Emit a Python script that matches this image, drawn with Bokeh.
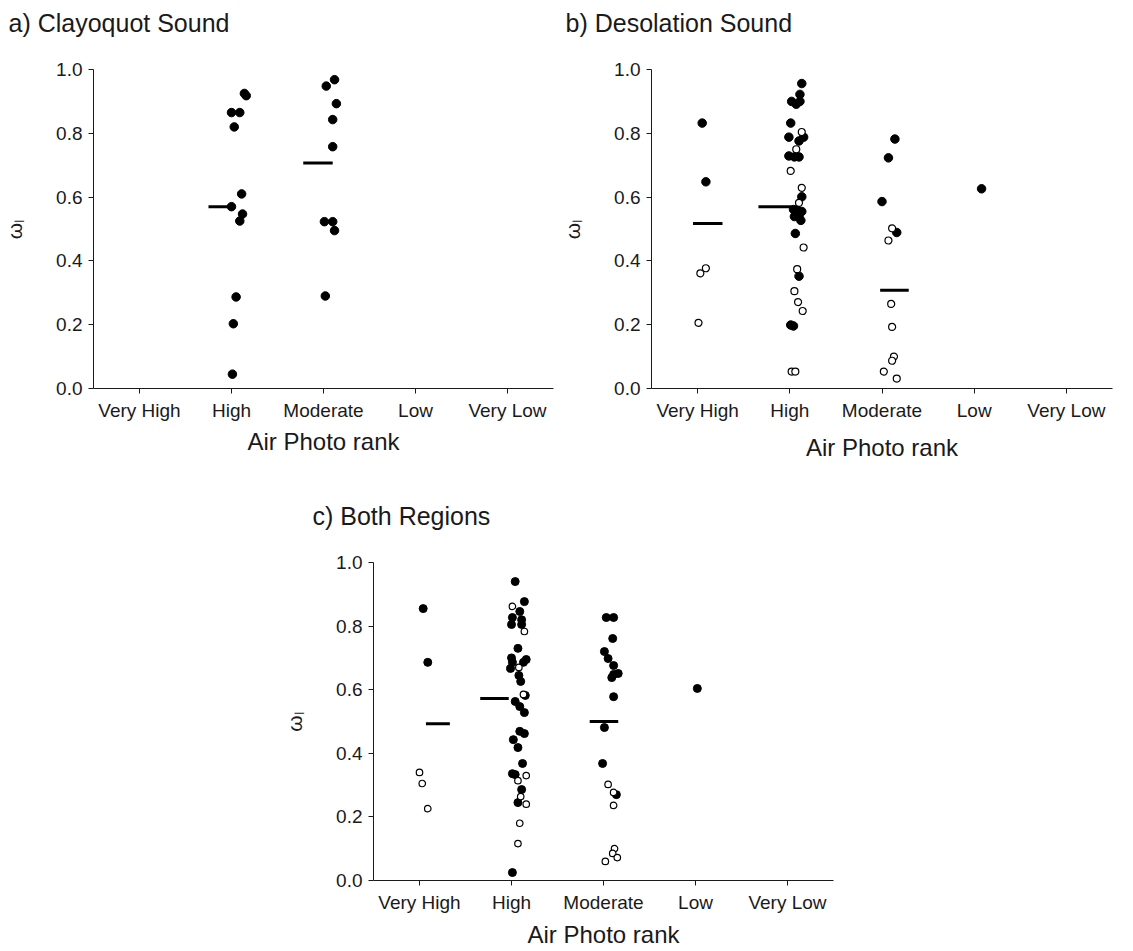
from bokeh.plotting import figure
from bokeh.models import Range1d, FixedTicker, Title, Spacer, ColumnDataSource
from bokeh.layouts import row, column
from bokeh.embed import file_html
from bokeh.resources import INLINE

# Air photo rank categories (x axis), positioned at 1..5
ranks = ["Very High", "High", "Moderate", "Low", "Very Low"]
y_ticks = [0.0, 0.2, 0.4, 0.6, 0.8, 1.0]

# ---- a) Clayoquot Sound -------------------------------------------------
a_rank = [2, 2, 2, 2, 2, 2, 2, 2, 2, 2, 2, 2,
          3, 3, 3, 3, 3, 3, 3, 3, 3]
a_omega = [0.925, 0.918, 0.865, 0.865, 0.82, 0.61, 0.57, 0.547, 0.525, 0.287, 0.203, 0.045,
           0.968, 0.948, 0.893, 0.843, 0.758, 0.523, 0.523, 0.495, 0.29]
a_jitter = [0.14, 0.16, 0.0, 0.09, 0.03, 0.11, 0.0, 0.12, 0.09, 0.05, 0.02, 0.01,
            0.12, 0.03, 0.14, 0.10, 0.10, 0.01, 0.10, 0.12, 0.02]
a_hollow = [False] * 21
a_mean_rank = [2, 3]
a_mean = [0.57, 0.707]
a_mean_from = [-0.25, -0.22]
a_mean_to = [0.0, 0.10]

# ---- b) Desolation Sound ------------------------------------------------
b_rank = [1, 1, 1, 1, 1] + [2] * 35 + [3] * 12 + [4]
b_omega = [0.832, 0.648, 0.377, 0.361, 0.206,
           0.956, 0.922, 0.90, 0.90, 0.891, 0.832, 0.804, 0.788, 0.788, 0.776,
           0.75, 0.729, 0.726, 0.726, 0.682, 0.629, 0.601, 0.582, 0.561, 0.555,
           0.539, 0.539, 0.527, 0.486, 0.442, 0.374, 0.352, 0.305, 0.271, 0.243,
           0.199, 0.196, 0.053, 0.053, 0.56,
           0.782, 0.723, 0.586, 0.489, 0.502, 0.464, 0.265, 0.193, 0.10, 0.087, 0.053, 0.031,
           0.626]
b_jitter = [0.05, 0.09, 0.09, 0.03, 0.01,
            0.13, 0.11, 0.02, 0.11, 0.07, 0.01, 0.13, -0.01, 0.15, 0.10,
            0.07, -0.01, 0.05, 0.10, 0.01, 0.13, 0.13, 0.10, 0.04, 0.13,
            0.05, 0.10, 0.12, 0.06, 0.15, 0.08, 0.10, 0.05, 0.09, 0.14,
            0.01, 0.04, 0.02, 0.06, 0.08,
            0.14, 0.07, 0.0, 0.16, 0.11, 0.07, 0.10, 0.11, 0.13, 0.11, 0.02, 0.16,
            0.08]
b_hollow = [False, False, True, True, True,
            False, False, False, False, False, False, True, False, False, False,
            True, False, False, False, True, True, False, True, False, False,
            False, False, False, False, True, True, False, True, True, True,
            False, False, True, True, False,
            False, False, False, False, True, True, True, True, True, True, True, True,
            False]
b_mean_rank = [1, 2, 3]
b_mean = [0.517, 0.570, 0.308]
b_mean_from = [-0.05, -0.34, -0.02]
b_mean_to = [0.27, 0.02, 0.29]

# ---- c) Both Regions ----------------------------------------------------
c_rank = [1] * 5 + [2] * 39 + [3] * 20 + [4]
c_omega = [0.855, 0.686, 0.340, 0.305, 0.226,
           0.940, 0.877, 0.862, 0.846, 0.827, 0.820, 0.805, 0.805, 0.783, 0.730,
           0.700, 0.695, 0.686, 0.686, 0.667, 0.670, 0.645, 0.626, 0.582, 0.585,
           0.563, 0.547, 0.528, 0.469, 0.462, 0.443, 0.418, 0.368, 0.336, 0.333,
           0.330, 0.314, 0.286, 0.264, 0.245, 0.240, 0.180, 0.116, 0.025,
           0.827, 0.827, 0.761, 0.720, 0.698, 0.676, 0.651, 0.648, 0.638, 0.578,
           0.481, 0.368, 0.302, 0.277, 0.270, 0.236, 0.100, 0.085, 0.072, 0.060,
           0.604]
c_jitter = [0.04, 0.09, 0.0, 0.03, 0.09,
            0.04, 0.14, 0.01, 0.09, 0.01, 0.11, 0.0, 0.11, 0.14, 0.07,
            0.0, 0.16, 0.01, 0.13, -0.01, 0.08, 0.08, 0.10, 0.15, 0.13,
            0.04, 0.09, 0.14, 0.09, 0.14, 0.02, 0.07, 0.12, 0.01, 0.04,
            0.16, 0.07, 0.11, 0.10, 0.07, 0.16, 0.09, 0.07, 0.01,
            0.03, 0.11, 0.10, 0.01, 0.05, 0.11, 0.16, 0.11, 0.09, 0.11,
            0.01, -0.01, 0.05, 0.11, 0.14, 0.11, 0.12, 0.10, 0.15, 0.02,
            0.02]
c_hollow = [False, False, True, True, True,
            False, False, True, False, False, False, False, False, True, False,
            False, False, False, False, False, True, False, False, False, True,
            False, False, False, False, False, False, False, False, False, False,
            True, True, False, True, False, True, True, True, False,
            False, False, False, False, False, False, False, False, False, False,
            False, False, True, True, False, True, True, True, True, True,
            False]
c_mean_rank = [1, 2, 3]
c_mean = [0.493, 0.572, 0.500]
c_mean_from = [0.07, -0.34, -0.15]
c_mean_to = [0.33, -0.03, 0.16]

FONT = "Liberation Sans"
INK = "#1a1a1a"


def strip_panel(label, label_dx, rank, omega, jitter, hollow,
                m_rank, m_val, m_from, m_to, width, height,
                left, right, top, bottom, xlab_gap, dot=8.5, ring=7.0):
    p = figure(width=width, height=height,
               x_range=Range1d(0.5, 5.5), y_range=Range1d(0.0, 1.0),
               output_backend="svg", toolbar_location=None,
               min_border_left=left, min_border_right=right,
               min_border_top=top, min_border_bottom=bottom)
    p.outline_line_color = None
    p.grid.grid_line_color = None
    p.background_fill_color = "white"
    p.border_fill_color = "white"

    # heading: the trailing blank line lifts the text well clear of the frame
    p.add_layout(Title(text=label + "\n", align="left", offset=label_dx,
                       vertical_align="bottom",
                       text_font=FONT, text_font_size="25px",
                       text_font_style="normal", text_color=INK,
                       standoff=10), "above")

    xs = [r + j for r, j in zip(rank, jitter)]
    filled = ColumnDataSource(dict(
        x=[x for x, h in zip(xs, hollow) if not h],
        y=[v for v, h in zip(omega, hollow) if not h]))
    empty = ColumnDataSource(dict(
        x=[x for x, h in zip(xs, hollow) if h],
        y=[v for v, h in zip(omega, hollow) if h]))
    p.scatter("x", "y", source=filled, size=dot, fill_color="black",
              line_color="black", line_width=1)
    p.scatter("x", "y", source=empty, size=ring, fill_color="white",
              line_color="black", line_width=1.2)

    p.segment(x0=[r + f for r, f in zip(m_rank, m_from)],
              x1=[r + t for r, t in zip(m_rank, m_to)],
              y0=m_val, y1=m_val, line_color="black", line_width=3)

    p.xaxis.ticker = FixedTicker(ticks=[1, 2, 3, 4, 5])
    p.xaxis.major_label_overrides = {i + 1: r for i, r in enumerate(ranks)}
    p.yaxis.ticker = FixedTicker(ticks=y_ticks)
    p.yaxis.major_label_overrides = {t: f"{t:.1f}" for t in y_ticks}
    p.xaxis.axis_label = "Air Photo rank"
    p.yaxis.axis_label = "\u03c9\u2097"
    for ax in (p.xaxis[0], p.yaxis[0]):
        ax.axis_line_color = INK
        ax.major_tick_line_color = INK
        ax.minor_tick_line_color = None
        ax.major_tick_out = 5
        ax.major_tick_in = 0
        ax.major_label_text_font = FONT
        ax.major_label_text_font_size = "19px"
        ax.major_label_text_color = INK
        ax.axis_label_text_font = FONT
        ax.axis_label_text_font_style = "normal"
        ax.axis_label_text_color = INK
    p.xaxis.axis_label_text_font_size = "24px"
    p.yaxis.axis_label_text_font_size = "21px"
    p.xaxis.major_label_standoff = 6
    p.xaxis.axis_label_standoff = xlab_gap
    p.yaxis.major_label_standoff = 6
    p.yaxis.axis_label_standoff = 27
    return p


pa = strip_panel("a) Clayoquot Sound", -85, a_rank, a_omega, a_jitter, a_hollow,
                 a_mean_rank, a_mean, a_mean_from, a_mean_to,
                 width=558, height=470, left=93, right=5, top=68, bottom=82,
                 xlab_gap=4)
pb = strip_panel("b) Desolation Sound", -86, b_rank, b_omega, b_jitter, b_hollow,
                 b_mean_rank, b_mean, b_mean_from, b_mean_to,
                 width=575, height=470, left=93, right=21, top=69, bottom=80,
                 xlab_gap=10)
pc = strip_panel("c) Both Regions", -61, c_rank, c_omega, c_jitter, c_hollow,
                 c_mean_rank, c_mean, c_mean_from, c_mean_to,
                 width=593, height=481, left=113, right=20, top=92, bottom=71,
                 xlab_gap=5, dot=8.0, ring=6.5)

layout = column(row(pa, pb), row(Spacer(width=260, height=481), pc))

with open("out.html", "w") as f:
    f.write(file_html(layout, INLINE, "Air photo rank"))
